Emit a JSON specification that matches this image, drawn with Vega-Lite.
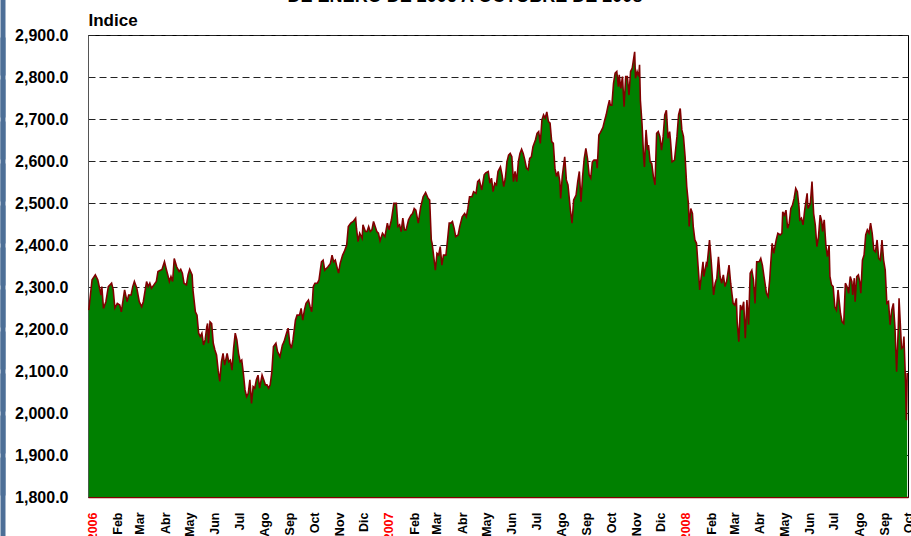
{
  "$schema": "https://vega.github.io/schema/vega-lite/v6.json",
  "width": 820,
  "height": 462,
  "autosize": {"type": "none"},
  "padding": {"left": 88, "top": 35, "right": 3, "bottom": 39},
  "background": "white",
  "title": {"text": "DE ENERO DE 2006 A OCTUBRE DE 2008", "anchor": "middle", "frame": "group", "font": "Liberation Sans", "fontSize": 18, "fontWeight": "bold", "color": "black", "dx": -33, "offset": -11},
  "config": {"view": {"stroke": "black", "strokeWidth": 1}, "font": "Liberation Sans"},
  "data": {"values": [
{"fecha":"2006-01-02","indice":2245},{"fecha":"2006-01-06","indice":2317},{"fecha":"2006-01-10","indice":2329},{"fecha":"2006-01-13","indice":2317},{"fecha":"2006-01-17","indice":2281},{"fecha":"2006-01-18","indice":2301},{"fecha":"2006-01-20","indice":2249},{"fecha":"2006-01-23","indice":2265},{"fecha":"2006-01-26","indice":2301},{"fecha":"2006-01-30","indice":2309},
{"fecha":"2006-02-01","indice":2293},{"fecha":"2006-02-03","indice":2250},{"fecha":"2006-02-06","indice":2261},{"fecha":"2006-02-09","indice":2257},{"fecha":"2006-02-11","indice":2241},{"fecha":"2006-02-15","indice":2293},{"fecha":"2006-02-18","indice":2265},{"fecha":"2006-02-20","indice":2281},{"fecha":"2006-02-23","indice":2281},{"fecha":"2006-02-25","indice":2301},{"fecha":"2006-02-27","indice":2313},
{"fecha":"2006-03-02","indice":2297},{"fecha":"2006-03-05","indice":2265},{"fecha":"2006-03-08","indice":2253},{"fecha":"2006-03-10","indice":2265},{"fecha":"2006-03-13","indice":2301},{"fecha":"2006-03-14","indice":2313},{"fecha":"2006-03-16","indice":2301},{"fecha":"2006-03-18","indice":2309},{"fecha":"2006-03-20","indice":2297},{"fecha":"2006-03-23","indice":2305},{"fecha":"2006-03-26","indice":2313},{"fecha":"2006-03-28","indice":2337},{"fecha":"2006-03-31","indice":2340},
{"fecha":"2006-04-02","indice":2342},{"fecha":"2006-04-05","indice":2360},{"fecha":"2006-04-07","indice":2344},{"fecha":"2006-04-09","indice":2329},{"fecha":"2006-04-11","indice":2313},{"fecha":"2006-04-13","indice":2325},{"fecha":"2006-04-15","indice":2313},{"fecha":"2006-04-17","indice":2368},{"fecha":"2006-04-20","indice":2348},{"fecha":"2006-04-23","indice":2337},{"fecha":"2006-04-25","indice":2342},{"fecha":"2006-04-27","indice":2333},{"fecha":"2006-04-29","indice":2309},
{"fecha":"2006-05-02","indice":2305},{"fecha":"2006-05-04","indice":2329},{"fecha":"2006-05-06","indice":2342},{"fecha":"2006-05-09","indice":2329},{"fecha":"2006-05-10","indice":2293},{"fecha":"2006-05-13","indice":2241},{"fecha":"2006-05-15","indice":2233},{"fecha":"2006-05-17","indice":2190},{"fecha":"2006-05-19","indice":2182},{"fecha":"2006-05-21","indice":2190},{"fecha":"2006-05-23","indice":2162},{"fecha":"2006-05-25","indice":2174},{"fecha":"2006-05-27","indice":2205},{"fecha":"2006-05-28","indice":2213},{"fecha":"2006-05-29","indice":2166},{"fecha":"2006-05-31","indice":2217},
{"fecha":"2006-06-02","indice":2213},{"fecha":"2006-06-04","indice":2166},{"fecha":"2006-06-06","indice":2150},{"fecha":"2006-06-08","indice":2138},{"fecha":"2006-06-10","indice":2102},{"fecha":"2006-06-12","indice":2075},{"fecha":"2006-06-14","indice":2122},{"fecha":"2006-06-16","indice":2142},{"fecha":"2006-06-18","indice":2114},{"fecha":"2006-06-21","indice":2142},{"fecha":"2006-06-23","indice":2122},{"fecha":"2006-06-25","indice":2126},{"fecha":"2006-06-27","indice":2102},{"fecha":"2006-06-29","indice":2154},
{"fecha":"2006-07-01","indice":2190},{"fecha":"2006-07-03","indice":2174},{"fecha":"2006-07-05","indice":2142},{"fecha":"2006-07-07","indice":2122},{"fecha":"2006-07-09","indice":2126},{"fecha":"2006-07-11","indice":2094},{"fecha":"2006-07-13","indice":2055},{"fecha":"2006-07-15","indice":2039},{"fecha":"2006-07-17","indice":2047},{"fecha":"2006-07-19","indice":2079},{"fecha":"2006-07-21","indice":2023},{"fecha":"2006-07-23","indice":2063},{"fecha":"2006-07-25","indice":2059},{"fecha":"2006-07-27","indice":2079},{"fecha":"2006-07-29","indice":2090},{"fecha":"2006-07-31","indice":2059},
{"fecha":"2006-08-03","indice":2090},{"fecha":"2006-08-05","indice":2079},{"fecha":"2006-08-07","indice":2067},{"fecha":"2006-08-09","indice":2067},{"fecha":"2006-08-11","indice":2059},{"fecha":"2006-08-13","indice":2067},{"fecha":"2006-08-15","indice":2098},{"fecha":"2006-08-17","indice":2158},{"fecha":"2006-08-20","indice":2166},{"fecha":"2006-08-22","indice":2146},{"fecha":"2006-08-25","indice":2134},{"fecha":"2006-08-28","indice":2162},{"fecha":"2006-08-30","indice":2170},
{"fecha":"2006-09-02","indice":2190},{"fecha":"2006-09-04","indice":2202},{"fecha":"2006-09-06","indice":2166},{"fecha":"2006-09-08","indice":2154},{"fecha":"2006-09-10","indice":2174},{"fecha":"2006-09-13","indice":2221},{"fecha":"2006-09-15","indice":2233},{"fecha":"2006-09-18","indice":2233},{"fecha":"2006-09-20","indice":2249},{"fecha":"2006-09-22","indice":2221},{"fecha":"2006-09-24","indice":2245},{"fecha":"2006-09-26","indice":2261},{"fecha":"2006-09-29","indice":2269},
{"fecha":"2006-10-01","indice":2253},{"fecha":"2006-10-03","indice":2241},{"fecha":"2006-10-05","indice":2301},{"fecha":"2006-10-07","indice":2309},{"fecha":"2006-10-10","indice":2309},{"fecha":"2006-10-12","indice":2317},{"fecha":"2006-10-15","indice":2360},{"fecha":"2006-10-17","indice":2364},{"fecha":"2006-10-19","indice":2340},{"fecha":"2006-10-21","indice":2344},{"fecha":"2006-10-23","indice":2348},{"fecha":"2006-10-26","indice":2356},{"fecha":"2006-10-28","indice":2376},{"fecha":"2006-10-30","indice":2360},
{"fecha":"2006-11-01","indice":2364},{"fecha":"2006-11-03","indice":2348},{"fecha":"2006-11-05","indice":2333},{"fecha":"2006-11-07","indice":2356},{"fecha":"2006-11-10","indice":2376},{"fecha":"2006-11-12","indice":2384},{"fecha":"2006-11-15","indice":2400},{"fecha":"2006-11-17","indice":2444},{"fecha":"2006-11-20","indice":2452},{"fecha":"2006-11-23","indice":2456},{"fecha":"2006-11-26","indice":2464},{"fecha":"2006-11-27","indice":2440},{"fecha":"2006-11-29","indice":2408},
{"fecha":"2006-12-01","indice":2428},{"fecha":"2006-12-04","indice":2416},{"fecha":"2006-12-05","indice":2448},{"fecha":"2006-12-08","indice":2432},{"fecha":"2006-12-10","indice":2432},{"fecha":"2006-12-12","indice":2444},{"fecha":"2006-12-14","indice":2432},{"fecha":"2006-12-16","indice":2436},{"fecha":"2006-12-18","indice":2456},{"fecha":"2006-12-20","indice":2444},{"fecha":"2006-12-22","indice":2432},{"fecha":"2006-12-24","indice":2428},{"fecha":"2006-12-26","indice":2410},{"fecha":"2006-12-29","indice":2428},
{"fecha":"2007-01-01","indice":2420},{"fecha":"2007-01-04","indice":2452},{"fecha":"2007-01-06","indice":2436},{"fecha":"2007-01-09","indice":2460},{"fecha":"2007-01-12","indice":2499},{"fecha":"2007-01-15","indice":2499},{"fecha":"2007-01-17","indice":2444},{"fecha":"2007-01-19","indice":2448},{"fecha":"2007-01-21","indice":2432},{"fecha":"2007-01-23","indice":2464},{"fecha":"2007-01-25","indice":2436},{"fecha":"2007-01-27","indice":2436},{"fecha":"2007-01-30","indice":2460},
{"fecha":"2007-02-02","indice":2471},{"fecha":"2007-02-04","indice":2475},{"fecha":"2007-02-06","indice":2487},{"fecha":"2007-02-08","indice":2483},{"fecha":"2007-02-11","indice":2452},{"fecha":"2007-02-14","indice":2491},{"fecha":"2007-02-17","indice":2515},{"fecha":"2007-02-20","indice":2525},{"fecha":"2007-02-23","indice":2511},{"fecha":"2007-02-25","indice":2507},{"fecha":"2007-02-27","indice":2412},{"fecha":"2007-02-28","indice":2404},
{"fecha":"2007-03-02","indice":2372},{"fecha":"2007-03-04","indice":2340},{"fecha":"2007-03-06","indice":2380},{"fecha":"2007-03-08","indice":2376},{"fecha":"2007-03-10","indice":2396},{"fecha":"2007-03-12","indice":2352},{"fecha":"2007-03-14","indice":2376},{"fecha":"2007-03-17","indice":2376},{"fecha":"2007-03-19","indice":2412},{"fecha":"2007-03-21","indice":2452},{"fecha":"2007-03-23","indice":2452},{"fecha":"2007-03-25","indice":2456},{"fecha":"2007-03-27","indice":2440},{"fecha":"2007-03-29","indice":2420},
{"fecha":"2007-04-01","indice":2424},{"fecha":"2007-04-03","indice":2444},{"fecha":"2007-04-06","indice":2467},{"fecha":"2007-04-09","indice":2475},{"fecha":"2007-04-11","indice":2467},{"fecha":"2007-04-13","indice":2487},{"fecha":"2007-04-15","indice":2515},{"fecha":"2007-04-18","indice":2515},{"fecha":"2007-04-20","indice":2527},{"fecha":"2007-04-23","indice":2523},{"fecha":"2007-04-25","indice":2551},{"fecha":"2007-04-27","indice":2555},{"fecha":"2007-04-30","indice":2531},
{"fecha":"2007-05-03","indice":2567},{"fecha":"2007-05-05","indice":2572},{"fecha":"2007-05-08","indice":2575},{"fecha":"2007-05-10","indice":2547},{"fecha":"2007-05-12","indice":2559},{"fecha":"2007-05-14","indice":2527},{"fecha":"2007-05-16","indice":2547},{"fecha":"2007-05-18","indice":2543},{"fecha":"2007-05-20","indice":2575},{"fecha":"2007-05-23","indice":2586},{"fecha":"2007-05-25","indice":2567},{"fecha":"2007-05-27","indice":2539},{"fecha":"2007-05-29","indice":2559},{"fecha":"2007-05-31","indice":2598},
{"fecha":"2007-06-02","indice":2614},{"fecha":"2007-06-04","indice":2618},{"fecha":"2007-06-06","indice":2610},{"fecha":"2007-06-08","indice":2551},{"fecha":"2007-06-10","indice":2575},{"fecha":"2007-06-12","indice":2551},{"fecha":"2007-06-14","indice":2598},{"fecha":"2007-06-16","indice":2618},{"fecha":"2007-06-18","indice":2628},{"fecha":"2007-06-20","indice":2618},{"fecha":"2007-06-22","indice":2602},{"fecha":"2007-06-24","indice":2583},{"fecha":"2007-06-26","indice":2579},{"fecha":"2007-06-28","indice":2606},{"fecha":"2007-06-30","indice":2610},
{"fecha":"2007-07-02","indice":2634},{"fecha":"2007-07-05","indice":2650},{"fecha":"2007-07-07","indice":2666},{"fecha":"2007-07-09","indice":2670},{"fecha":"2007-07-11","indice":2642},{"fecha":"2007-07-13","indice":2698},{"fecha":"2007-07-15","indice":2710},{"fecha":"2007-07-17","indice":2702},{"fecha":"2007-07-19","indice":2717},{"fecha":"2007-07-21","indice":2694},{"fecha":"2007-07-23","indice":2690},{"fecha":"2007-07-25","indice":2646},{"fecha":"2007-07-27","indice":2642},{"fecha":"2007-07-29","indice":2583},{"fecha":"2007-07-31","indice":2563},
{"fecha":"2007-08-02","indice":2575},{"fecha":"2007-08-04","indice":2551},{"fecha":"2007-08-05","indice":2511},{"fecha":"2007-08-07","indice":2563},{"fecha":"2007-08-10","indice":2610},{"fecha":"2007-08-12","indice":2555},{"fecha":"2007-08-14","indice":2543},{"fecha":"2007-08-17","indice":2483},{"fecha":"2007-08-19","indice":2452},{"fecha":"2007-08-21","indice":2507},{"fecha":"2007-08-24","indice":2519},{"fecha":"2007-08-26","indice":2551},{"fecha":"2007-08-28","indice":2575},{"fecha":"2007-08-30","indice":2503},
{"fecha":"2007-09-01","indice":2563},{"fecha":"2007-09-03","indice":2606},{"fecha":"2007-09-05","indice":2630},{"fecha":"2007-09-07","indice":2606},{"fecha":"2007-09-09","indice":2567},{"fecha":"2007-09-11","indice":2559},{"fecha":"2007-09-13","indice":2598},{"fecha":"2007-09-15","indice":2602},{"fecha":"2007-09-18","indice":2602},{"fecha":"2007-09-19","indice":2583},{"fecha":"2007-09-21","indice":2662},{"fecha":"2007-09-23","indice":2668},{"fecha":"2007-09-26","indice":2680},{"fecha":"2007-09-28","indice":2696},{"fecha":"2007-09-30","indice":2710},
{"fecha":"2007-10-02","indice":2729},{"fecha":"2007-10-04","indice":2745},{"fecha":"2007-10-05","indice":2733},{"fecha":"2007-10-07","indice":2733},{"fecha":"2007-10-09","indice":2785},{"fecha":"2007-10-11","indice":2809},{"fecha":"2007-10-13","indice":2813},{"fecha":"2007-10-15","indice":2777},{"fecha":"2007-10-16","indice":2805},{"fecha":"2007-10-18","indice":2773},{"fecha":"2007-10-20","indice":2801},{"fecha":"2007-10-22","indice":2729},{"fecha":"2007-10-24","indice":2801},{"fecha":"2007-10-26","indice":2801},{"fecha":"2007-10-28","indice":2757},{"fecha":"2007-10-30","indice":2813},
{"fecha":"2007-11-01","indice":2821},{"fecha":"2007-11-04","indice":2860},{"fecha":"2007-11-05","indice":2797},{"fecha":"2007-11-07","indice":2813},{"fecha":"2007-11-09","indice":2801},{"fecha":"2007-11-10","indice":2829},{"fecha":"2007-11-11","indice":2745},{"fecha":"2007-11-13","indice":2690},{"fecha":"2007-11-15","indice":2610},{"fecha":"2007-11-16","indice":2586},{"fecha":"2007-11-18","indice":2674},{"fecha":"2007-11-20","indice":2626},{"fecha":"2007-11-21","indice":2638},{"fecha":"2007-11-23","indice":2598},{"fecha":"2007-11-25","indice":2594},{"fecha":"2007-11-27","indice":2563},{"fecha":"2007-11-29","indice":2543},
{"fecha":"2007-12-01","indice":2666},{"fecha":"2007-12-03","indice":2670},{"fecha":"2007-12-05","indice":2658},{"fecha":"2007-12-07","indice":2626},{"fecha":"2007-12-09","indice":2658},{"fecha":"2007-12-11","indice":2710},{"fecha":"2007-12-13","indice":2721},{"fecha":"2007-12-15","indice":2654},{"fecha":"2007-12-17","indice":2670},{"fecha":"2007-12-18","indice":2650},{"fecha":"2007-12-20","indice":2598},{"fecha":"2007-12-23","indice":2602},{"fecha":"2007-12-26","indice":2658},{"fecha":"2007-12-28","indice":2710},{"fecha":"2007-12-30","indice":2725},
{"fecha":"2008-01-01","indice":2674},{"fecha":"2008-01-03","indice":2658},{"fecha":"2008-01-05","indice":2610},{"fecha":"2008-01-07","indice":2539},{"fecha":"2008-01-09","indice":2499},{"fecha":"2008-01-10","indice":2444},{"fecha":"2008-01-12","indice":2487},{"fecha":"2008-01-14","indice":2475},{"fecha":"2008-01-15","indice":2444},{"fecha":"2008-01-17","indice":2412},{"fecha":"2008-01-19","indice":2404},{"fecha":"2008-01-21","indice":2348},{"fecha":"2008-01-23","indice":2293},{"fecha":"2008-01-27","indice":2360},{"fecha":"2008-01-28","indice":2325},{"fecha":"2008-01-31","indice":2356},
{"fecha":"2008-02-01","indice":2352},{"fecha":"2008-02-04","indice":2412},{"fecha":"2008-02-06","indice":2364},{"fecha":"2008-02-09","indice":2281},{"fecha":"2008-02-11","indice":2309},{"fecha":"2008-02-13","indice":2321},{"fecha":"2008-02-15","indice":2372},{"fecha":"2008-02-17","indice":2325},{"fecha":"2008-02-19","indice":2309},{"fecha":"2008-02-21","indice":2329},{"fecha":"2008-02-23","indice":2301},{"fecha":"2008-02-25","indice":2313},{"fecha":"2008-02-28","indice":2352},
{"fecha":"2008-03-01","indice":2309},{"fecha":"2008-03-04","indice":2261},{"fecha":"2008-03-06","indice":2257},{"fecha":"2008-03-08","indice":2273},{"fecha":"2008-03-09","indice":2217},{"fecha":"2008-03-11","indice":2170},{"fecha":"2008-03-13","indice":2257},{"fecha":"2008-03-15","indice":2245},{"fecha":"2008-03-17","indice":2265},{"fecha":"2008-03-19","indice":2178},{"fecha":"2008-03-21","indice":2269},{"fecha":"2008-03-23","indice":2210},{"fecha":"2008-03-25","indice":2333},{"fecha":"2008-03-27","indice":2340},{"fecha":"2008-03-29","indice":2317},{"fecha":"2008-03-31","indice":2261},
{"fecha":"2008-04-02","indice":2360},{"fecha":"2008-04-05","indice":2360},{"fecha":"2008-04-07","indice":2368},{"fecha":"2008-04-09","indice":2352},{"fecha":"2008-04-11","indice":2325},{"fecha":"2008-04-14","indice":2285},{"fecha":"2008-04-16","indice":2277},{"fecha":"2008-04-18","indice":2317},{"fecha":"2008-04-19","indice":2348},{"fecha":"2008-04-21","indice":2404},{"fecha":"2008-04-23","indice":2380},{"fecha":"2008-04-26","indice":2412},{"fecha":"2008-04-28","indice":2428},
{"fecha":"2008-05-01","indice":2424},{"fecha":"2008-05-03","indice":2428},{"fecha":"2008-05-04","indice":2479},{"fecha":"2008-05-06","indice":2471},{"fecha":"2008-05-08","indice":2483},{"fecha":"2008-05-10","indice":2440},{"fecha":"2008-05-12","indice":2452},{"fecha":"2008-05-14","indice":2487},{"fecha":"2008-05-16","indice":2495},{"fecha":"2008-05-18","indice":2511},{"fecha":"2008-05-20","indice":2535},{"fecha":"2008-05-22","indice":2527},{"fecha":"2008-05-24","indice":2491},{"fecha":"2008-05-25","indice":2460},{"fecha":"2008-05-27","indice":2464},{"fecha":"2008-05-29","indice":2448},{"fecha":"2008-05-31","indice":2483},
{"fecha":"2008-06-03","indice":2523},{"fecha":"2008-06-04","indice":2487},{"fecha":"2008-06-07","indice":2499},{"fecha":"2008-06-09","indice":2551},{"fecha":"2008-06-11","indice":2475},{"fecha":"2008-06-13","indice":2448},{"fecha":"2008-06-15","indice":2396},{"fecha":"2008-06-17","indice":2420},{"fecha":"2008-06-19","indice":2471},{"fecha":"2008-06-21","indice":2456},{"fecha":"2008-06-22","indice":2432},{"fecha":"2008-06-24","indice":2460},{"fecha":"2008-06-26","indice":2400},{"fecha":"2008-06-28","indice":2372},{"fecha":"2008-06-30","indice":2400},
{"fecha":"2008-07-01","indice":2325},{"fecha":"2008-07-03","indice":2305},{"fecha":"2008-07-05","indice":2301},{"fecha":"2008-07-07","indice":2253},{"fecha":"2008-07-09","indice":2245},{"fecha":"2008-07-11","indice":2293},{"fecha":"2008-07-14","indice":2237},{"fecha":"2008-07-16","indice":2217},{"fecha":"2008-07-18","indice":2213},{"fecha":"2008-07-20","indice":2309},{"fecha":"2008-07-22","indice":2301},{"fecha":"2008-07-24","indice":2285},{"fecha":"2008-07-26","indice":2325},{"fecha":"2008-07-28","indice":2313},{"fecha":"2008-07-29","indice":2281},{"fecha":"2008-07-31","indice":2321},
{"fecha":"2008-08-01","indice":2265},{"fecha":"2008-08-03","indice":2325},{"fecha":"2008-08-05","indice":2329},{"fecha":"2008-08-07","indice":2309},{"fecha":"2008-08-08","indice":2285},{"fecha":"2008-08-10","indice":2364},{"fecha":"2008-08-12","indice":2376},{"fecha":"2008-08-14","indice":2424},{"fecha":"2008-08-16","indice":2436},{"fecha":"2008-08-18","indice":2428},{"fecha":"2008-08-20","indice":2452},{"fecha":"2008-08-22","indice":2428},{"fecha":"2008-08-24","indice":2388},{"fecha":"2008-08-26","indice":2384},{"fecha":"2008-08-28","indice":2412},{"fecha":"2008-08-30","indice":2368},
{"fecha":"2008-09-01","indice":2364},{"fecha":"2008-09-03","indice":2412},{"fecha":"2008-09-05","indice":2364},{"fecha":"2008-09-07","indice":2340},{"fecha":"2008-09-09","indice":2261},{"fecha":"2008-09-11","indice":2265},{"fecha":"2008-09-13","indice":2210},{"fecha":"2008-09-15","indice":2245},{"fecha":"2008-09-17","indice":2261},{"fecha":"2008-09-19","indice":2202},{"fecha":"2008-09-21","indice":2098},{"fecha":"2008-09-23","indice":2198},{"fecha":"2008-09-24","indice":2273},{"fecha":"2008-09-27","indice":2154},{"fecha":"2008-09-29","indice":2158},{"fecha":"2008-09-30","indice":2182},
{"fecha":"2008-10-02","indice":2071},{"fecha":"2008-10-03","indice":1983},{"fecha":"2008-10-04","indice":2095}
  ]},
  "layer": [
    {
      "mark": {"type": "area", "color": "#008000", "opacity": 1, "clip": true},
      "encoding": {
        "x": {
          "field": "fecha", "type": "temporal",
          "scale": {"type": "utc", "domain": [{"year": 2006, "month": 1, "date": 1, "utc": true}, {"year": 2008, "month": 10, "date": 5, "utc": true}]},
          "axis": {
            "title": null,
            "tickCount": {"interval": "month", "step": 1},
            "labelExpr": "utcmonth(datum.value) === 0 ? utcFormat(datum.value, '%Y') : ['Ene','Feb','Mar','Abr','May','Jun','Jul','Ago','Sep','Oct','Nov','Dic'][utcmonth(datum.value)]",
            "labelAngle": 270,
            "labelFont": "Liberation Sans",
            "labelFontSize": 12.5,
            "labelFontWeight": "bold",
            "labelColor": {"condition": {"test": "utcmonth(datum.value) === 0", "value": "#ff0000"}, "value": "black"},
            "labelPadding": 15,
            "labelOffset": 4,
            "labelOverlap": false,
            "labelFlush": false,
            "labelBound": false,
            "ticks": false,
            "domain": true,
            "domainColor": "#800000",
            "domainWidth": 1.5,
            "grid": false
          }
        },
        "y": {
          "field": "indice", "type": "quantitative",
          "scale": {"domain": [1800, 2900], "zero": false, "nice": false},
          "axis": {
            "title": "Indice",
            "titleAngle": 0,
            "titleX": 0,
            "titleY": -10,
            "titleAlign": "left",
            "titleBaseline": "alphabetic",
            "titleFont": "Liberation Sans",
            "titleFontSize": 17,
            "titleFontWeight": "bold",
            "titleColor": "black",
            "values": [1800, 1900, 2000, 2100, 2200, 2300, 2400, 2500, 2600, 2700, 2800, 2900],
            "format": ",.1f",
            "labelFont": "Liberation Sans",
            "labelFontSize": 16,
            "labelFontWeight": "bold",
            "labelColor": "black",
            "labelPadding": 20,
            "ticks": false,
            "domain": true,
            "domainColor": "#555555",
            "grid": true,
            "gridColor": "#222222",
            "gridDash": [7, 4],
            "gridWidth": 1
          }
        }
      }
    },
    {
      "mark": {"type": "line", "color": "#800000", "strokeWidth": 1.6, "clip": true},
      "encoding": {
        "x": {"field": "fecha", "type": "temporal"},
        "y": {
          "field": "indice", "type": "quantitative",
          "axis": {
            "orient": "left",
            "offset": 83,
            "title": null,
            "labels": false,
            "domain": false,
            "grid": false,
            "ticks": true,
            "tickSize": 5,
            "tickWidth": 80,
            "tickColor": "#4d6f97",
            "values": [1800, 1900, 2000, 2100, 2200, 2300, 2400, 2500, 2600, 2700, 2800, 2900]
          }
        }
      }
    }
  ],
  "resolve": {"axis": {"y": "independent"}}
}
